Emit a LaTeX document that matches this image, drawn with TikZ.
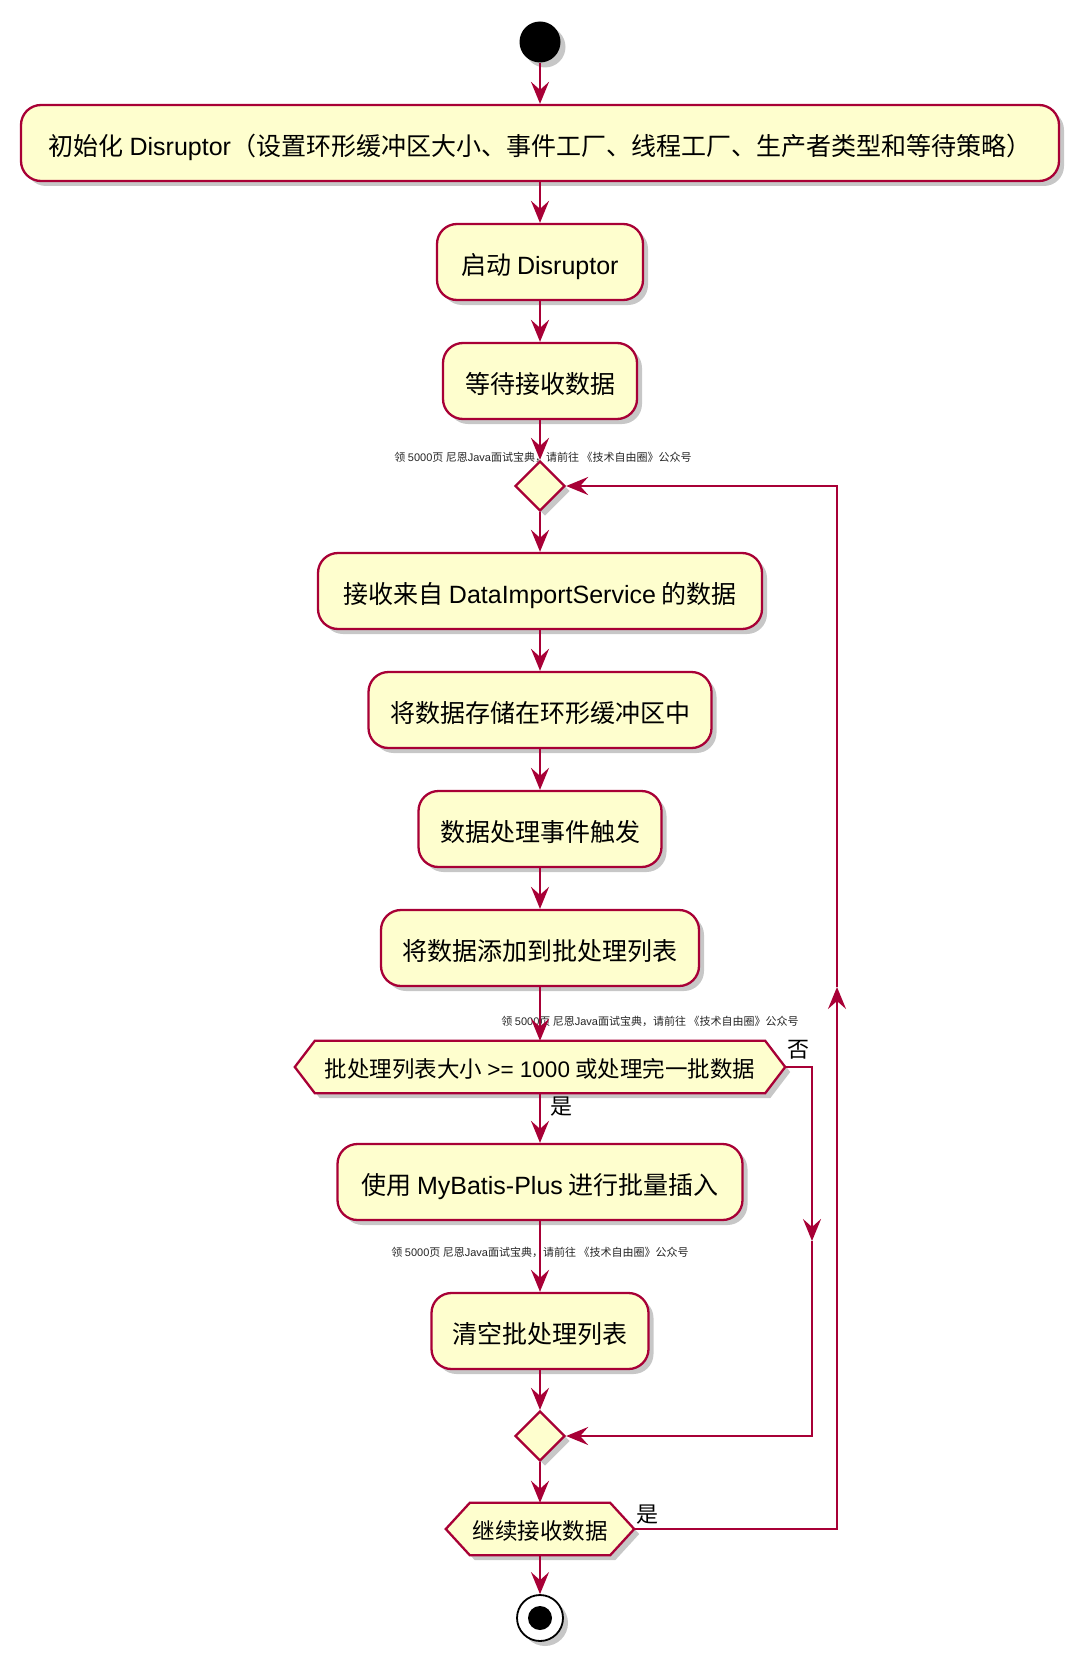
\documentclass[tikz,border=0pt]{standalone}
\usepackage{fontspec}
\setmainfont{Liberation Sans}
\newfontfamily\cjk{Noto Sans CJK SC}
\usetikzlibrary{shapes.geometric,shadows,arrows.meta,backgrounds,calc}
\definecolor{pfill}{HTML}{FEFECE}
\definecolor{pline}{HTML}{A80036}
\newcommand\la[1]{{\rmfamily #1}}
\tikzset{
  shade5/.style={drop shadow={shadow xshift=5pt,shadow yshift=-5pt,fill=black,opacity=0.22}},
  box/.style={rectangle,rounded corners=20pt,draw=pline,fill=pfill,line width=2.3pt,
    minimum height=76pt,inner sep=0pt,text height=25pt,text depth=0pt,
    font=\cjk\fontsize{25}{30}\selectfont,shade5},
  hexlbl/.style={inner sep=0pt,minimum height=52pt,text height=20pt,text depth=0pt,
    font=\cjk\fontsize{22.5}{27}\selectfont},
  hexline/.style={draw=pline,fill=pfill,line width=2.3pt,line join=miter,shade5},
  dia/.style={diamond,draw=pline,fill=pfill,line width=2.3pt,inner sep=0pt,
    minimum width=50pt,minimum height=50pt,shade5},
  arr/.style={draw=pline,line width=2.3pt,-{Stealth[length=22pt,width=18pt,inset=8pt]}},
  wm/.style={font=\cjk\fontsize{11}{13}\selectfont,text=black!85,inner sep=0pt},
  lbl/.style={font=\cjk\fontsize{22}{26}\selectfont,inner sep=0pt},
}
\begin{document}
\begin{tikzpicture}[x=1pt,y=-1pt]
\begin{scope}[on background layer]
  \fill[white] (0,0) rectangle (1080,1664);
\end{scope}
\useasboundingbox (0,0) rectangle (1080,1664);

% start
\node[circle,fill=black,minimum size=41pt,inner sep=0pt,shade5] (start) at (540,42) {};

% boxes
\node[box,minimum width=1038pt] (init) at (540,143) {初始化 \la{Disruptor}（设置环形缓冲区大小、事件工厂、线程工厂、生产者类型和等待策略）};
\node[box,minimum width=206pt] (boot) at (540,262) {启动 \la{Disruptor}};
\node[box,minimum width=194pt] (wait) at (540,381) {等待接收数据};
\node[dia] (d1) at (540,486) {};
\node[box,minimum width=444pt] (recv) at (540,591) {接收来自 \la{DataImportService} 的数据};
\node[box,minimum width=343pt] (store) at (540,710) {将数据存储在环形缓冲区中};
\node[box,minimum width=243pt] (trig) at (540,829) {数据处理事件触发};
\node[box,minimum width=318pt] (add) at (540,948) {将数据添加到批处理列表};
\node[hexlbl,minimum width=490pt] (h1) at (540,1067) {批处理列表大小 \la{>= 1000} 或处理完一批数据};
\node[box,minimum width=405pt] (mb) at (540,1182) {使用 \la{MyBatis-Plus} 进行批量插入};
\node[box,minimum width=217pt] (clr) at (540,1331) {清空批处理列表};
\node[dia] (d2) at (540,1436) {};
\node[hexlbl,minimum width=188pt] (h2) at (540,1529) {继续接收数据};
\node[circle,draw=black,fill=white,line width=1.8pt,minimum size=46pt,inner sep=0pt,shade5] (end) at (540,1618) {};
\node[circle,fill=black,minimum size=24pt,inner sep=0pt] (endin) at (end) {};

% hexagon outlines
\begin{scope}[on background layer]
  \path[hexline] (h1.west) -- ($(h1.north west)+(20,0)$) -- ($(h1.north east)+(-20,0)$) -- (h1.east)
     -- ($(h1.south east)+(-20,0)$) -- ($(h1.south west)+(20,0)$) -- cycle;
  \path[hexline] (h2.west) -- ($(h2.north west)+(24,0)$) -- ($(h2.north east)+(-24,0)$) -- (h2.east)
     -- ($(h2.south east)+(-24,0)$) -- ($(h2.south west)+(24,0)$) -- cycle;
\end{scope}

% watermarks
\node[wm] (w1) at (543,457) {领 \la{5000}页 尼恩\la{Java}面试宝典，请前往 《技术自由圈》公众号};
\node[wm] (w2) at (650,1021) {领 \la{5000}页 尼恩\la{Java}面试宝典，请前往 《技术自由圈》公众号};
\node[wm] (w3) at (540,1252) {领 \la{5000}页 尼恩\la{Java}面试宝典，请前往 《技术自由圈》公众号};

% coordinates for bends
\coordinate (nomid) at (812,1241);
\coordinate (loopmid) at (837,987);

% connectors
\draw[arr] (start) -- (init);
\draw[arr] (init) -- (boot);
\draw[arr] (boot) -- (wait);
\draw[arr] (wait) -- (d1);
\draw[arr] (d1) -- (recv);
\draw[arr] (recv) -- (store);
\draw[arr] (store) -- (trig);
\draw[arr] (trig) -- (add);
\draw[arr] (add) -- (h1.north);
\draw[arr] (h1.south) -- (mb);
\draw[arr] (mb) -- (clr);
\draw[arr] (clr) -- (d2);
\draw[arr] (h1.east) -| (nomid);
\draw[arr] (nomid) |- (d2.east);
\draw[arr] (d2) -- (h2.north);
\draw[arr] (h2.south) -- (end);
\draw[arr] (h2.east) -| (loopmid);
\draw[arr] (loopmid) |- (d1.east);

% labels
\node[lbl,anchor=west] (yes1) at (550,1107) {是};
\node[lbl,anchor=west] (no1) at (787,1050) {否};
\node[lbl,anchor=west] (yes2) at (636,1515) {是};
\end{tikzpicture}
\end{document}
